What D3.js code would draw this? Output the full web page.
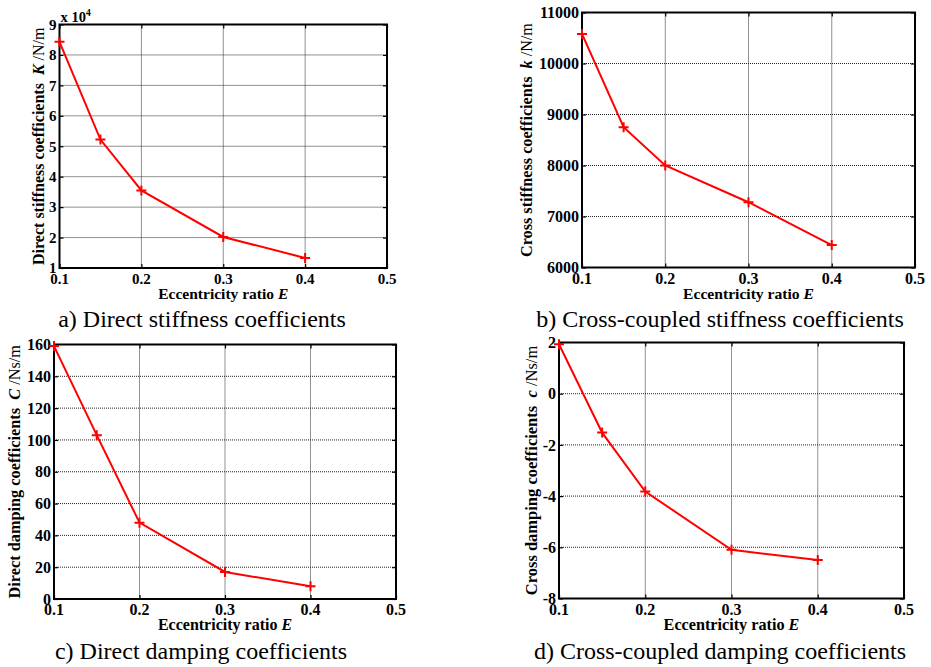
<!DOCTYPE html>
<html>
<head>
<meta charset="utf-8">
<script src="https://cdn.jsdelivr.net/npm/d3@7"></script>
<style>
  body { margin: 0; background: #fff; }
  svg { display: block; }
  text { font-family: "Liberation Serif", "Times New Roman", serif; }
</style>
</head>
<body>
<div id="chart-area"></div>
<script>
// eccentricity ratio E (x values, shared by all four panels)
var eccentricity = [0.1, 0.15, 0.2, 0.3, 0.4];

// series values
var directStiffness = [8.43, 5.22, 3.55, 2.02, 1.33];      // x 10^4 N/m
var crossStiffness = [10580, 8750, 8000, 7280, 6440];      // N/m
var directDamping = [159, 103, 48, 17, 8];                 // Ns/m
var crossDamping = [1.93, -1.52, -3.82, -6.1, -6.5];       // Ns/m

// tick labels
var xTicks = [0.1, 0.2, 0.3, 0.4, 0.5];
var yTicksA = [1, 2, 3, 4, 5, 6, 7, 8, 9];
var yTicksB = [6000, 7000, 8000, 9000, 10000, 11000];
var yTicksC = [0, 20, 40, 60, 80, 100, 120, 140, 160];
var yTicksD = [-8, -6, -4, -2, 0, 2];

var W = 931, H = 667;
var gap = "\u00a0\u00a0";

var panels = [
    { values: directStiffness, yTicks: yTicksA, box: [59.5, 24.5, 387, 268],
      ylab: ["Direct stiffness coefficients" + gap, "K", " /N/m"], ylabX: 38, fs: 15, xfs: 15.5, yfs: 16,
      caption: "a) Direct stiffness coefficients", capX: 202, capY: 327, exponent: true },
    { values: crossStiffness, yTicks: yTicksB, box: [582, 12.5, 915, 267.5],
      ylab: ["Cross stiffness coefficients" + gap, "k", " /N/m"], ylabX: 526, fs: 16, xfs: 15.6, yfs: 16.2,
      caption: "b) Cross-coupled stiffness coefficients", capX: 720, capY: 327 },
    { values: directDamping, yTicks: yTicksC, box: [54, 344.5, 396, 599],
      ylab: ["Direct damping coefficients" + gap, "C", " /Ns/m"], ylabX: 14, fs: 16, xfs: 16, yfs: 16.3,
      caption: "c) Direct damping coefficients", capX: 201, capY: 659 },
    { values: crossDamping, yTicks: yTicksD, box: [559, 342.5, 904, 598.5],
      ylab: ["Cross damping coefficients" + gap, "c", " /Ns/m"], ylabX: 531, fs: 16, xfs: 16.2, yfs: 16.5,
      caption: "d) Cross-coupled damping coefficients", capX: 720, capY: 659 }
];

var svg = d3.select("#chart-area")
    .append("svg")
    .attr("width", W)
    .attr("height", H);

panels.forEach(function (p) {
    var x0 = p.box[0], y0 = p.box[1], x1 = p.box[2], y1 = p.box[3];

    var xScale = d3.scaleLinear()
        .domain([xTicks[0], xTicks[xTicks.length - 1]])
        .range([x0, x1]);

    var yScale = d3.scaleLinear()
        .domain([p.yTicks[0], p.yTicks[p.yTicks.length - 1]])
        .range([y1, y0]);

    var g = svg.append("g");

    // dotted grid
    g.selectAll(".gx")
        .data(xTicks.slice(1, -1))
        .enter()
        .append("line")
        .attr("x1", function (d) { return xScale(d); })
        .attr("x2", function (d) { return xScale(d); })
        .attr("y1", y0)
        .attr("y2", y1)
        .attr("stroke", "#222")
        .attr("stroke-width", 1)
        .attr("stroke-dasharray", "1,1");

    g.selectAll(".gy")
        .data(p.yTicks.slice(1, -1))
        .enter()
        .append("line")
        .attr("x1", x0)
        .attr("x2", x1)
        .attr("y1", function (d) { return yScale(d); })
        .attr("y2", function (d) { return yScale(d); })
        .attr("stroke", "#222")
        .attr("stroke-width", 1)
        .attr("stroke-dasharray", "1,1");

    // inward ticks on all four sides
    var tk = 4;
    [y1, y0].forEach(function (yy, i) {
        g.append("g")
            .attr("transform", "translate(0," + yy + ")")
            .call(i === 0 ? d3.axisTop(xScale).tickValues(xTicks).tickSize(tk).tickFormat("")
                          : d3.axisBottom(xScale).tickValues(xTicks).tickSize(tk).tickFormat(""))
            .call(function (s) { s.select(".domain").remove(); s.selectAll("line").attr("stroke-width", 1.2); });
    });
    [x0, x1].forEach(function (xx, i) {
        g.append("g")
            .attr("transform", "translate(" + xx + ",0)")
            .call(i === 0 ? d3.axisRight(yScale).tickValues(p.yTicks).tickSize(tk).tickFormat("")
                          : d3.axisLeft(yScale).tickValues(p.yTicks).tickSize(tk).tickFormat(""))
            .call(function (s) { s.select(".domain").remove(); s.selectAll("line").attr("stroke-width", 1.2); });
    });

    // box
    g.append("rect")
        .attr("x", x0)
        .attr("y", y0)
        .attr("width", x1 - x0)
        .attr("height", y1 - y0)
        .attr("fill", "none")
        .attr("stroke", "#000")
        .attr("stroke-width", 2);

    // tick labels
    g.selectAll(".xl")
        .data(xTicks)
        .enter()
        .append("text")
        .attr("x", function (d) { return xScale(d); })
        .attr("y", y1 + 16)
        .attr("text-anchor", "middle")
        .attr("font-size", p.fs + "px")
        .attr("font-weight", "bold")
        .text(function (d) { return d3.format(".1f")(d); });

    g.selectAll(".yl")
        .data(p.yTicks)
        .enter()
        .append("text")
        .attr("x", x0 - 3)
        .attr("y", function (d) { return yScale(d); })
        .attr("dy", "0.35em")
        .attr("text-anchor", "end")
        .attr("font-size", p.fs + "px")
        .attr("font-weight", "bold")
        .text(function (d) { return d; });

    // x axis label
    var xl = g.append("text")
        .attr("x", (x0 + x1) / 2)
        .attr("y", y1 + 31)
        .attr("text-anchor", "middle")
        .attr("font-size", p.xfs + "px")
        .attr("font-weight", "bold");
    xl.append("tspan").text("Eccentricity ratio ");
    xl.append("tspan").attr("font-style", "italic").text("E");

    // y axis label
    var yl = g.append("text")
        .attr("transform", "translate(" + p.ylabX + "," + (y0 + y1) / 2 + ") rotate(-90)")
        .attr("text-anchor", "middle")
        .attr("dy", "0.35em")
        .attr("font-size", p.yfs + "px")
        .attr("font-weight", "bold");
    yl.append("tspan").text(p.ylab[0]);
    yl.append("tspan").attr("font-style", "italic").text(p.ylab[1]);
    yl.append("tspan").attr("font-weight", "normal").text(p.ylab[2]);

    if (p.exponent) {
        var ex = g.append("text")
            .attr("x", x0 + 1)
            .attr("y", y0 - 3)
            .attr("font-size", "14.5px")
            .attr("font-weight", "bold");
        ex.append("tspan").text("x 10");
        ex.append("tspan").attr("font-size", "9.5px").attr("dy", "-6").text("4");
    }

    // data line
    var pts = eccentricity.map(function (e, i) { return [e, p.values[i]]; });

    var line = d3.line()
        .x(function (d) { return xScale(d[0]); })
        .y(function (d) { return yScale(d[1]); });

    g.append("path")
        .datum(pts)
        .attr("d", line)
        .attr("fill", "none")
        .attr("stroke", "#ff0000")
        .attr("stroke-width", 2);

    // plus markers
    var m = 5;
    g.selectAll(".mk")
        .data(pts)
        .enter()
        .append("path")
        .attr("d", function (d) {
            var cx = xScale(d[0]), cy = yScale(d[1]);
            return "M" + (cx - m) + "," + cy + "H" + (cx + m) + "M" + cx + "," + (cy - m) + "V" + (cy + m);
        })
        .attr("stroke", "#ff0000")
        .attr("stroke-width", 2);

    // caption
    svg.append("text")
        .attr("x", p.capX)
        .attr("y", p.capY)
        .attr("text-anchor", "middle")
        .attr("font-size", "24px")
        .text(p.caption);
});
</script>
</body>
</html>
